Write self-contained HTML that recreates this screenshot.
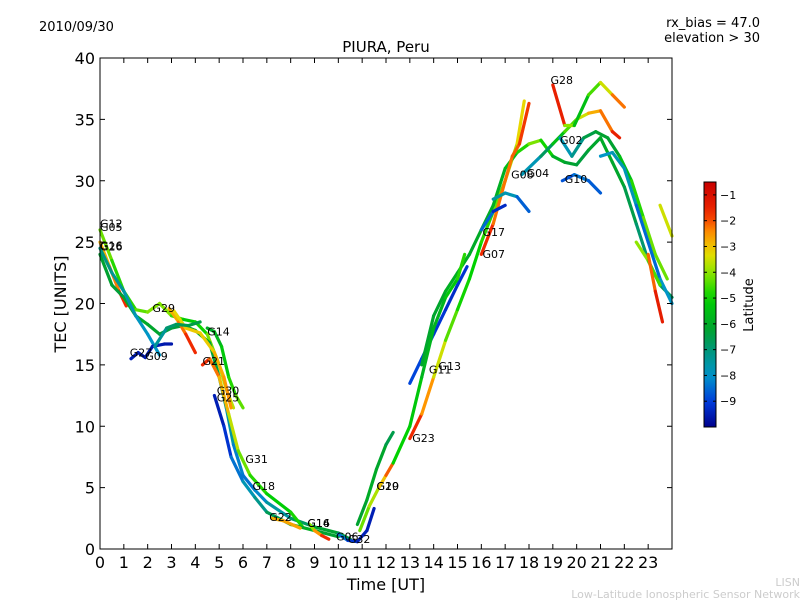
<!DOCTYPE html>
<html><head><meta charset="utf-8"><style>
body{margin:0;background:#fff;}
svg{display:block;font-family:"DejaVu Sans","Liberation Sans",sans-serif;}
</style></head><body>
<svg id="c" width="800" height="600" viewBox="0 0 800 600">
<rect width="800" height="600" fill="#fff"/>
<text x="39" y="31" font-size="13">2010/09/30</text>
<text x="760" y="27" font-size="13" text-anchor="end">rx_bias = 47.0</text>
<text x="760" y="42" font-size="13" text-anchor="end">elevation &gt; 30</text>
<text x="386" y="52" font-size="15" text-anchor="middle">PIURA, Peru</text>
<text x="386" y="590" font-size="16" text-anchor="middle">Time [UT]</text>
<text x="66" y="304" font-size="16" text-anchor="middle" transform="rotate(-90 66 304)">TEC [UNITS]</text>
<text x="753" y="305" font-size="13" text-anchor="middle" transform="rotate(-90 753 305)">Latitude</text>
<text x="800" y="586" font-size="11" fill="#ccc" text-anchor="end">LISN</text>
<text x="800" y="598" font-size="11" fill="#ccc" text-anchor="end">Low-Latitude Ionospheric Sensor Network</text>
<g id="plot"></g>
<g id="axes"></g>
<g id="cbar"></g>
</svg>
<script>
const xTicks=[0,1,2,3,4,5,6,7,8,9,10,11,12,13,14,15,16,17,18,19,20,21,22,23];
const yTicks=[0,5,10,15,20,25,30,35,40];
const cbTicks=[-1,-2,-3,-4,-5,-6,-7,-8,-9];
const latMin=-10, latMax=-0.5;
// each track: [time UT, TEC, latitude]
const trackG12=[[0,26,-4],[0.5,23.5,-4.5],[1,21,-5],[1.5,19.5,-4.5],[2,19.3,-4.2],[2.5,20,-4],[3,19,-4.2],[3.5,18.7,-5],[4,18.5,-5.3],[4.5,17.5,-4.5],[5,15,-3.8],[5.3,13,-3.5],[5.6,11.5,-3.8]];
const trackG05=[[0,25,-3],[0.4,23,-2.6],[0.8,21,-2],[1.1,19.8,-1.5]];
const trackG26=[[0,24,-6],[0.5,21.5,-6.5],[1,20.5,-6.2],[1.5,19,-6],[2,18.3,-6],[2.5,17.5,-6.3],[3,18,-6.5],[3.5,18.2,-6.3],[4,17.8,-6],[4.6,16.8,-6],[5,14,-6.8],[5.3,11.5,-7.2],[5.6,8.5,-8],[6,6,-8.5],[6.5,4.8,-8.3],[7,3.8,-8],[8,2.5,-7],[9,1.8,-6.5],[10,1.3,-6],[10.5,0.8,-7]];
const trackG16a=[[0,24.5,-7],[0.5,22.5,-7.2],[1,21,-7.5],[1.5,19,-7.8],[2,17.5,-8],[2.5,15.8,-8]];
const trackG29=[[2.9,19.6,-3],[3.3,18.5,-2.5],[3.6,17.5,-2],[4,16,-1.5]];
const trackG29b=[[3.1,19.4,-3.5],[3.6,18,-3],[4.2,17.6,-3.2],[4.8,16,-3],[5.2,14,-2.5],[5.5,11.5,-2.5]];
const trackG27=[[1.3,15.5,-9.5],[1.6,16,-9.5],[1.9,15.6,-9.6],[2.2,16.5,-9.5],[2.7,16.7,-9.6],[3,16.7,-9.6]];
const trackG09=[[2.3,16.5,-7.8],[2.8,18,-7],[3.2,18.3,-6.8],[3.7,18.2,-6.5],[4.2,18.5,-6.5]];
const trackG14=[[4.5,18,-6],[4.8,17.7,-6],[5.1,16.5,-5.5],[5.4,14,-5],[5.7,12.5,-4.5],[6,11.5,-4.2]];
const trackG21=[[4.3,15,-1.5],[4.6,15.5,-2],[5,14,-2.5],[5.4,11,-3.2],[5.8,8,-4],[6.3,6,-4.5],[7,4.5,-5],[8,3,-5.2],[8.5,1.8,-4.5]];
const trackG30=[[4.8,12.5,-9.5],[5.2,10,-9.5],[5.5,7.5,-8.8],[6,5.5,-8],[6.5,4.2,-7.5],[7,3,-7],[8,2,-6.3],[9,1.5,-5.5],[10,1,-7]];
const trackG22=[[7.2,2.5,-3],[7.7,2.3,-2.5],[8.4,1.7,-2.8]];
const trackG16=[[8.8,2,-5],[9,1.5,-3],[9.3,1.1,-2],[9.6,0.8,-1.5]];
const trackG06=[[10,1.2,-8],[10.4,0.7,-8.8],[10.8,0.6,-9.4],[11.2,1.5,-9.5],[11.5,3.3,-9.5]];
const trackG20=[[10.8,2,-6.5],[11.2,4,-6],[11.6,6.5,-6],[12,8.5,-6.3],[12.3,9.5,-6.8]];
const trackG19=[[10.9,1.5,-4.5],[11.3,3.5,-4],[11.7,5,-3.5],[12,6,-2.5],[12.3,7,-1.7]];
const trackG23=[[13,9,-1.5],[13.5,11,-2],[14,14,-3],[14.5,17,-4],[15,19.5,-4.8],[15.5,22,-5],[16,25,-5],[16.5,27.5,-4.5],[17,30,-4],[17.5,33,-3.5],[17.8,36.5,-3]];
const trackG11=[[13,13.5,-9],[13.5,15.5,-8.8],[14,17.5,-9],[14.5,19.5,-9.2],[15,21.5,-9.3],[15.4,23,-9]];
const trackG13=[[13.5,15,-6],[14,19,-6.3],[14.5,21,-6],[15,22.5,-5.8],[15.5,24,-6],[16,26,-6],[16.5,28,-6],[17,31,-5.8],[17.5,32.3,-5.3],[18,33,-4.3],[18.5,33.3,-4],[19,32,-5.8],[19.5,31.5,-6],[20,31.3,-6.5],[20.5,32.5,-6.3],[21,33.5,-6],[21.5,31.5,-6],[22,29.5,-6.3],[22.5,26.5,-6.8],[23,23.5,-7],[23.5,21.5,-6.5],[24,20.5,-7]];
const trackG13b=[[12.3,7,-5],[13,10,-5],[13.5,14,-5.5],[14,18,-6],[14.5,20.5,-5.5],[15,22,-5],[15.3,24,-4.5]];
const trackG07=[[16,24,-1.5],[16.5,26.5,-2],[17,30,-2.5],[17.3,32,-2],[17.6,33,-2.2],[18,36.3,-1.5]];
const trackG17=[[16,26,-8],[16.5,27.5,-9],[17,28,-9.6]];
const trackG08=[[16.5,28.5,-7.5],[17,29,-7.5],[17.5,28.7,-8],[18,27.5,-9.2]];
const trackG04=[[17.7,30.5,-8],[18.5,32,-7.5],[19,33,-6],[19.5,34,-5],[20,35,-4],[20.5,35.5,-3],[21,35.7,-2.5],[21.5,34,-2],[21.8,33.5,-1]];
const trackG28=[[19,37.8,-1],[19.5,34.5,-2],[19.9,34.5,-6],[20.5,37,-5],[21,38,-4],[21.5,37,-3],[22,36,-1.5]];
const trackG02=[[19.3,33.5,-8],[19.8,32,-7.5],[20.3,33.5,-7],[20.8,34,-6],[21.3,33.5,-6.5],[21.8,32,-6],[22.3,30,-5],[22.8,27,-4.5],[23.3,24,-4],[23.8,22,-4.5]];
const trackG10=[[19.4,30,-9],[19.9,30.5,-8.5],[20.5,30,-8.3],[21,29,-9]];
const trackG10b=[[21,32,-8],[21.5,32.3,-8],[22,31,-7.5],[22.5,28,-8],[23,25,-9],[23.5,22,-8],[24,20,-8]];
const trackG32=[[22.5,25,-4],[23,23.5,-4],[23.5,21.5,-5]];
const trackG31=[[23,24,-2.5],[23.3,21,-1.8],[23.6,18.5,-1]];
const trackG24=[[23.5,28,-3],[24,25.5,-4]];
const tracks=[trackG12,trackG05,trackG26,trackG16a,trackG29,trackG29b,trackG27,trackG09,trackG14,trackG21,trackG30,trackG22,trackG16,trackG06,trackG20,trackG19,trackG23,trackG11,trackG13,trackG13b,trackG07,trackG17,trackG08,trackG04,trackG28,trackG02,trackG10,trackG10b,trackG32,trackG31,trackG24];
const labelNames=["G12","G05","G26","G16","G29","G14","G27","G09","G21","G30","G25","G31","G18","G22","G16","G14","G06","G32","G20","G19","G23","G11","G13","G07","G17","G08","G04","G28","G02","G10"];
const labelT=[0,0,0,0,2.2,4.5,1.25,1.9,4.3,4.9,4.9,6.1,6.4,7.1,8.7,8.7,9.9,10.4,11.6,11.6,13.1,13.8,14.2,16.05,16.05,17.25,17.9,18.9,19.3,19.5];
const labelV=[26.2,25.9,24.3,24.4,19.3,17.4,15.7,15.4,15.0,12.6,12.0,7.0,4.8,2.3,1.8,1.8,0.7,0.5,4.8,4.8,8.7,14.3,14.6,23.7,25.5,30.2,30.3,37.9,33.0,29.8];

const X0=100,X1=672,Y0=549,Y1=58;
const sx=t=>X0+(X1-X0)*t/24, sy=v=>Y0-(Y0-Y1)*v/40;
const NS="http://www.w3.org/2000/svg";
function mk(tag,attrs,parent){const e=document.createElementNS(NS,tag);for(const k in attrs)e.setAttribute(k,attrs[k]);parent.appendChild(e);return e;}
const cmapStops=[[0,[0,0,140]],[0.105,[0,60,220]],[0.21,[0,150,200]],[0.316,[0,150,120]],[0.39,[0,160,50]],[0.526,[0,210,0]],[0.63,[140,230,0]],[0.705,[230,220,0]],[0.79,[255,150,0]],[0.87,[240,40,0]],[1,[200,0,0]]];
function cmap(f){f=Math.max(0,Math.min(1,f));for(let i=0;i<cmapStops.length-1;i++){const a=cmapStops[i],b=cmapStops[i+1];if(f<=b[0]){const u=(f-a[0])/(b[0]-a[0]);return `rgb(${a[1].map((c,k)=>Math.round(c+(b[1][k]-c)*u)).join(',')})`;}}return 'rgb(200,0,0)';}
const latC=l=>cmap((l-latMin)/(latMax-latMin));
const plot=document.getElementById('plot');
tracks.forEach((tr,i)=>{
  const g=mk('g',{},plot);
  
  
  for(let j=0;j<tr.length-1;j++){
    const a=tr[j],b=tr[j+1];
    const ln=mk('line',{x1:sx(a[0]),y1:sy(a[1]),x2:sx(b[0]),y2:sy(b[1]),stroke:latC((a[2]+b[2])/2),'stroke-width':3.2,'stroke-linecap':'round'},g);
    
    
  }
});
labelNames.forEach((n,i)=>{
  const t=mk('text',{x:sx(labelT[i]),y:sy(labelV[i]),'font-size':11},plot);
  
  
  t.textContent=n;
});
const ax=document.getElementById('axes');
const fr=mk('rect',{x:X0,y:Y1,width:X1-X0,height:Y0-Y1,fill:'none',stroke:'#000','stroke-width':1},ax);


xTicks.forEach(v=>{
  const x=sx(v);
  mk('line',{x1:x,y1:Y0,x2:x,y2:Y0-5,stroke:'#000'},ax);
  mk('line',{x1:x,y1:Y1,x2:x,y2:Y1+5,stroke:'#000'},ax);
  const t=mk('text',{x:x,y:Y0+19,'font-size':16,'text-anchor':'middle'},ax);
  
  
  t.textContent=v;
});
yTicks.forEach(v=>{
  const y=sy(v);
  mk('line',{x1:X0,y1:y,x2:X0+5,y2:y,stroke:'#000'},ax);
  mk('line',{x1:X1,y1:y,x2:X1-5,y2:y,stroke:'#000'},ax);
  const t=mk('text',{x:X0-5,y:y+6,'font-size':16,'text-anchor':'end'},ax);
  
  
  t.textContent=v;
});
const cb=document.getElementById('cbar');
const CX=704,CW=12,CT=182,CB=427;
const defs=mk('defs',{},cb);
const gr=mk('linearGradient',{id:'jg',x1:0,y1:1,x2:0,y2:0},defs);
for(let i=0;i<=20;i++)mk('stop',{offset:i/20,'stop-color':cmap(i/20)},gr);
const cr=mk('rect',{x:CX,y:CT,width:CW,height:CB-CT,fill:'url(#jg)',stroke:'#000'},cb);


cbTicks.forEach(v=>{
  const y=CB-(CB-CT)*(v-latMin)/(latMax-latMin);
  mk('line',{x1:CX,y1:y,x2:CX+3,y2:y,stroke:'#000'},cb);
  mk('line',{x1:CX+CW,y1:y,x2:CX+CW-3,y2:y,stroke:'#000'},cb);
  const t=mk('text',{x:CX+CW+4,y:y+4,'font-size':11},cb);
  
  
  t.textContent='\u2212'+Math.abs(v);
});
</script>
</body></html>
